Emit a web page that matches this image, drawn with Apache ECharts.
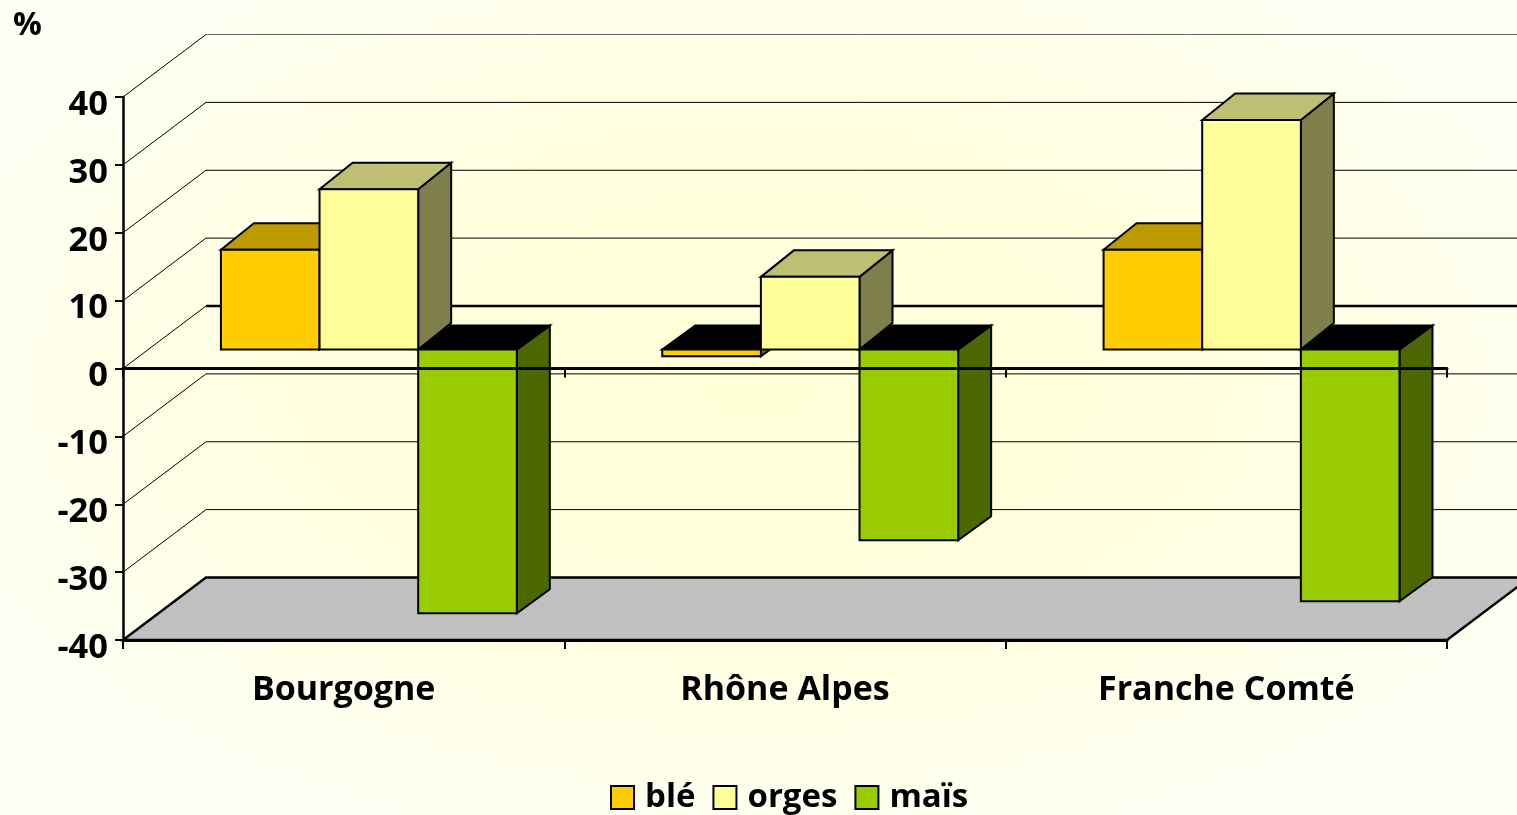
<!DOCTYPE html>
<html><head><meta charset="utf-8">
<style>html,body{margin:0;padding:0;width:100%;height:100%;overflow:hidden;background:radial-gradient(ellipse 60% 62% at 50% 47%,#FFFFD8 0%,#FFFFDE 45%,#FFFFF6 100%);}#c{width:1517px;height:815px;}</style>
<script src="https://cdn.jsdelivr.net/npm/echarts@6/dist/echarts.min.js"></script>
</head><body><div id="c"></div>
<script>
const categories = ['Bourgogne', 'Rhône Alpes', 'Franche Comté'];
const ble = [14.7, -1, 14.7];
const orges = [23.6, 10.7, 33.8];
const mais = [-38.85, -28.1, -37.1];
const yTicks = [-40, -30, -20, -10, 0, 10, 20, 30, 40];
const seriesNames = ['blé', 'orges', 'maïs'];
const frontColors = ['#FFCC00', '#FFFF99', '#99CC00'];
const topColors = ['#BF9900', '#BFBF73', '#738C00'];
const sideColors = ['#7F6600', '#7F7F4C', '#4C6600'];

const WALL_DX = 83, WALL_DY = -62.5;   // depth of the chart box
const FRONT_DX = 25.2, FRONT_DY = -19; // gap from front of box to bar front
const BAR_DX = 33;                     // bar depth
const BAR_DY_POS = -26.5, BAR_DY_NEG = -24;
const BAR_FRAC = 0.2235;               // bar width as share of category band
const FONT = '"Open Sans", sans-serif';

function stroke(w) { return { stroke: '#000', lineWidth: w }; }

function renderWall(params, api) {
  const v = api.value(1);
  const sys = params.coordSys;
  const y = api.coord([0, v])[1];
  const x0 = sys.x, x1 = sys.x + sys.width;
  const children = [];
  if (v === yTicks[0]) {
    children.push({ type: 'polygon', shape: { points: [[x0, y], [x1, y], [x1 + WALL_DX, y + WALL_DY], [x0 + WALL_DX, y + WALL_DY]] },
      style: { fill: '#C0C0C0', stroke: '#000', lineWidth: 2.5 } });
  } else {
    const w = v === 0 ? 2.5 : 1;
    children.push({ type: 'polyline', shape: { points: [[x0, y], [x0 + WALL_DX, y + WALL_DY]] }, style: { fill: null, ...stroke(1) } });
    children.push({ type: 'line', shape: { x1: x0 + WALL_DX, y1: y + WALL_DY, x2: 1517, y2: y + WALL_DY },
      style: { ...stroke(w), stroke: v === yTicks[yTicks.length - 1] ? '#666' : '#000' } });
  }
  return { type: 'group', children };
}

function barRenderer(idx) {
  return function (params, api) {
    const cat = api.value(0), v = api.value(1);
    const c = api.coord([cat, 0]);
    const band = api.size([1, 0])[0];
    const bw = band * BAR_FRAC;
    const xl = c[0] + FRONT_DX + (idx - 1.5) * bw;
    const xr = xl + bw;
    const y0 = c[1] + FRONT_DY;
    const yv = api.coord([cat, v])[1] + FRONT_DY;
    const top = Math.min(y0, yv), bot = Math.max(y0, yv);
    const neg = v < 0;
    const dy = neg ? BAR_DY_NEG : BAR_DY_POS;
    const s = { stroke: '#000', lineWidth: 2, lineJoin: 'miter' };
    return { type: 'group', children: [
      { type: 'polygon', shape: { points: [[xr, top], [xr + BAR_DX, top + dy], [xr + BAR_DX, bot + dy], [xr, bot]] },
        style: { fill: sideColors[idx], ...s } },
      { type: 'polygon', shape: { points: [[xl, top], [xl + BAR_DX, top + dy], [xr + BAR_DX, top + dy], [xr, top]] },
        style: { fill: neg ? '#000' : topColors[idx], ...s } },
      { type: 'rect', shape: { x: xl, y: top, width: bw, height: bot - top },
        style: { fill: frontColors[idx], ...s } }
    ] };
  };
}

const valueLists = [ble, orges, mais];
const chart = echarts.init(document.getElementById('c'), null, { renderer: 'canvas' });
chart.setOption({
  animation: false,
  backgroundColor: 'transparent',
  title: { text: '%', left: 8, top: 5, textStyle: { fontFamily: FONT, fontWeight: 'bold', fontSize: 32, color: '#000' } },
  legend: {
    data: seriesNames, left: 605, top: 776, icon: 'rect', itemWidth: 23, itemHeight: 23, itemGap: 17, selectedMode: false,
    textStyle: { fontFamily: FONT, fontWeight: 'bold', fontSize: 33, color: '#000', padding: [0, 0, 0, 6] }
  },
  grid: { left: 123, right: 70, top: 97, bottom: 175 },
  xAxis: [
    { type: 'category', data: categories, position: 'bottom', z: 5,
      axisLine: { onZero: false, lineStyle: { color: '#000', width: 3 } },
      axisTick: { show: true, length: 9, lineStyle: { color: '#000', width: 2 } },
      axisLabel: { show: true, margin: 33, interval: 0, fontFamily: FONT, fontWeight: 'bold', fontSize: 34, color: '#000' } },
    { type: 'category', data: categories, position: 'bottom', z: 5,
      axisLine: { onZero: true, lineStyle: { color: '#000', width: 3 } },
      axisTick: { show: true, length: 9, lineStyle: { color: '#000', width: 2 } },
      axisLabel: { show: false } }
  ],
  yAxis: { type: 'value', min: -40, max: 40, interval: 10, z: 5,
    axisLine: { show: true, onZero: false, lineStyle: { color: '#000', width: 2.5 } },
    axisTick: { show: true, length: 8, lineStyle: { color: '#000', width: 2 } },
    splitLine: { show: false },
    axisLabel: { margin: 15, verticalAlign: 'top', lineHeight: 16, fontFamily: FONT, fontWeight: 'bold', fontSize: 34.5, color: '#000' } },
  series: [
    { type: 'custom', name: 'walls', z: 1, silent: true, renderItem: renderWall, encode: { x: 0, y: 1 },
      data: yTicks.map(v => [0, v]) }
  ].concat(seriesNames.map((n, i) => ({
    type: 'custom', name: n, z: 2 + i * 0.1, renderItem: barRenderer(i), encode: { x: 0, y: 1 },
    itemStyle: { color: frontColors[i], borderColor: '#000', borderWidth: 2 },
    data: valueLists[i].map((v, k) => [k, v])
  })))
});
</script></body></html>
